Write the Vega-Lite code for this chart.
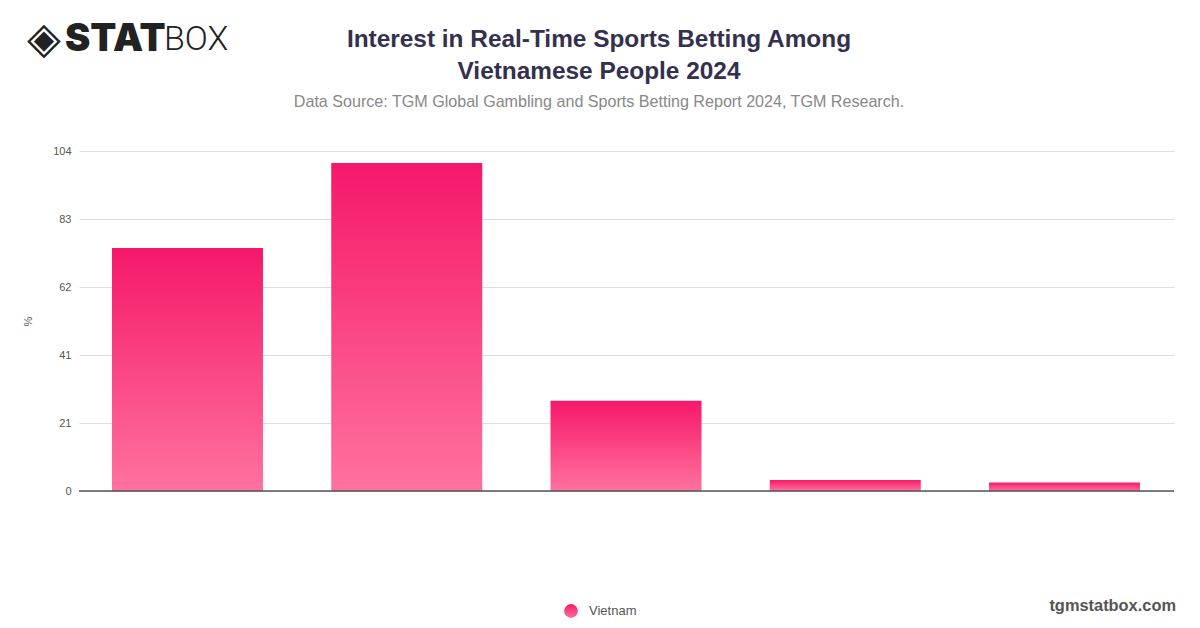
{
  "$schema": "https://vega.github.io/schema/vega-lite/v6.json",
  "description": "Interest in real-time sports betting among Vietnamese people, 2024",
  "width": 1095,
  "height": 340,
  "autosize": "none",
  "padding": {"left": 79, "top": 151, "right": 26, "bottom": 137},
  "background": "#ffffff",
  "title": {
    "text": ["Interest in Real-Time Sports Betting Among", "Vietnamese People 2024"],
    "subtitle": "Data Source: TGM Global Gambling and Sports Betting Report 2024, TGM Research.",
    "anchor": "middle",
    "frame": "group",
    "dx": -27.5,
    "offset": -93.5,
    "font": "Liberation Sans",
    "fontSize": 24.4,
    "fontWeight": "bold",
    "lineHeight": 32,
    "color": "#34304f",
    "subtitleFont": "Liberation Sans",
    "subtitleFontSize": 16.1,
    "subtitleColor": "#888888",
    "subtitlePadding": 10
  },
  "layer": [
    {
      "data": {
        "values": [
          {"category": "1", "value": 74.3, "country": "Vietnam"},
          {"category": "2", "value": 100.3, "country": "Vietnam"},
          {"category": "3", "value": 27.6, "country": "Vietnam"},
          {"category": "4", "value": 3.4, "country": "Vietnam"},
          {"category": "5", "value": 2.6, "country": "Vietnam"}
        ]
      },
      "mark": {
        "type": "bar",
        "width": 151,
        "xOffset": -0.5,
        "strokeWidth": 0,
        "fill": {
          "gradient": "linear",
          "x1": 0,
          "y1": 0,
          "x2": 0,
          "y2": 1,
          "stops": [
            {"offset": 0, "color": "#f6186a"},
            {"offset": 1, "color": "#ff729f"}
          ]
        }
      },
      "encoding": {
        "x": {
          "field": "category",
          "type": "nominal",
          "title": null,
          "scale": {"paddingInner": 0.31, "paddingOuter": 0.152},
          "axis": {"labels": false, "ticks": false, "domain": false, "grid": false}
        },
        "y": {
          "field": "value",
          "type": "quantitative",
          "title": "%",
          "scale": {"domain": [0, 104], "nice": false},
          "axis": {
            "values": [0, 20.8, 41.6, 62.4, 83.2, 104],
            "labelExpr": "datum.value == 41.6 ? '41' : format(datum.value, '.0f')",
            "domain": false,
            "ticks": false,
            "gridColor": "#dddddd",
            "labelFont": "Liberation Sans",
            "labelFontSize": 11,
            "labelColor": "#555555",
            "labelPadding": 8,
            "titleFont": "Liberation Sans",
            "titleFontSize": 11,
            "titleFontWeight": "normal",
            "titleColor": "#555555",
            "titleX": -46,
            "titleY": 170
          }
        },
        "stroke": {
          "field": "country",
          "type": "nominal",
          "scale": {"range": ["#f6186a"]},
          "legend": {
            "title": null,
            "orient": "none",
            "legendX": 485,
            "legendY": 453,
            "symbolType": "circle",
            "symbolSize": 190,
            "symbolStrokeWidth": 0,
            "labelFont": "Liberation Sans",
            "labelFontSize": 13,
            "labelColor": "#555555",
            "labelOffset": 11,
            "encode": {
              "symbols": {
                "update": {
                  "fill": {
                    "value": {
                      "gradient": "linear",
                      "x1": 0,
                      "y1": 0,
                      "x2": 0,
                      "y2": 1,
                      "stops": [
                        {"offset": 0, "color": "#f6186a"},
                        {"offset": 1, "color": "#ff729f"}
                      ]
                    }
                  },
                  "stroke": {"value": "transparent"},
                  "strokeWidth": {"value": 0}
                }
              }
            }
          }
        }
      }
    },
    {
      "data": {"values": [{"zero": 0}]},
      "mark": {"type": "rule", "color": "#555555", "strokeWidth": 1.5},
      "encoding": {"y": {"field": "zero", "type": "quantitative"}}
    },
    {
      "data": {"values": [{"label": "tgmstatbox.com"}]},
      "mark": {"type": "text", "align": "right", "font": "Liberation Sans", "fontSize": 16.4, "fontWeight": "bold", "color": "#555555"},
      "encoding": {"text": {"field": "label"}, "x": {"value": 1097}, "y": {"value": 455}}
    },
    {
      "data": {"values": [{"label": "◈"}]},
      "mark": {"type": "text", "align": "center", "font": "DejaVu Sans", "fontSize": 44, "color": "#222222"},
      "encoding": {"text": {"field": "label"}, "x": {"value": -35}, "y": {"value": -111}}
    },
    {
      "data": {"values": [{"label": "STAT"}]},
      "mark": {"type": "text", "align": "left", "font": "Inter", "fontSize": 38, "fontWeight": 900, "color": "#222222"},
      "encoding": {"text": {"field": "label"}, "x": {"value": -14}, "y": {"value": -111}}
    },
    {
      "data": {"values": [{"label": "BOX"}]},
      "mark": {"type": "text", "align": "left", "font": "Roboto", "fontSize": 34, "fontWeight": 300, "color": "#222222"},
      "encoding": {"text": {"field": "label"}, "x": {"value": 85}, "y": {"value": -111}}
    }
  ],
  "config": {"view": {"stroke": null}}
}
